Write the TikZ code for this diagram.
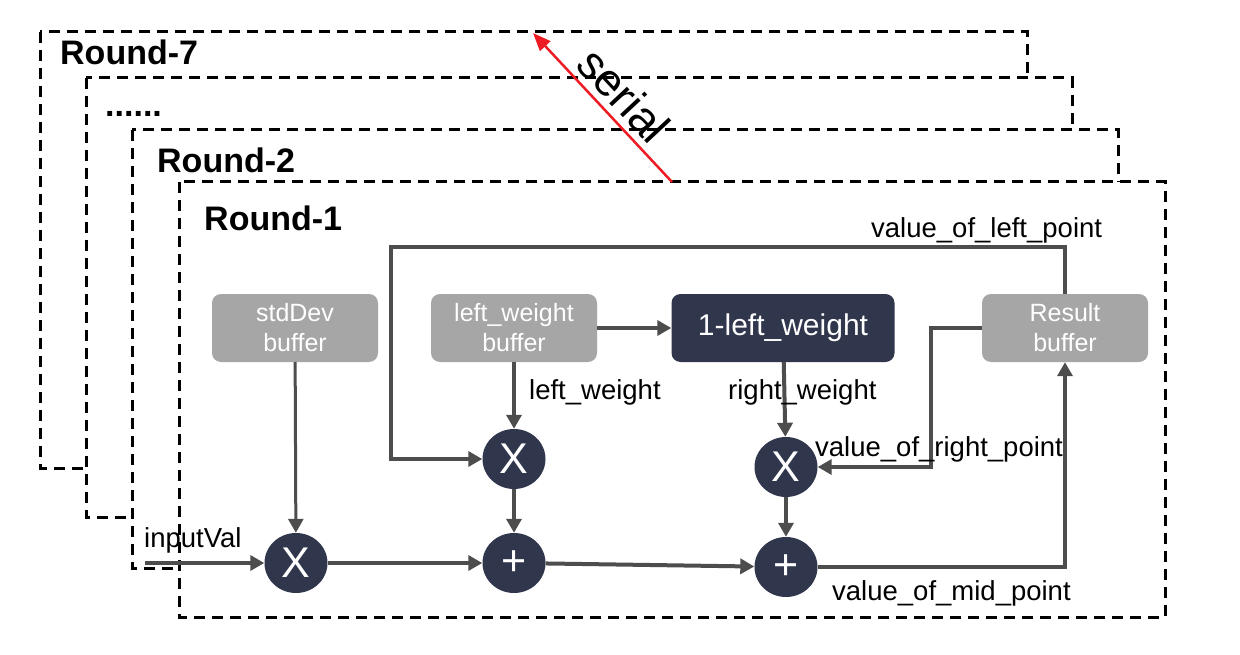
\documentclass[tikz,border=0pt]{standalone}
\usepackage{fontspec}
\setmainfont{Liberation Sans}
\usetikzlibrary{calc,shapes.geometric,arrows.meta}
\definecolor{navy}{RGB}{48,54,76}
\definecolor{bufgray}{RGB}{166,166,166}
\definecolor{wiregray}{RGB}{77,77,77}
\definecolor{serialred}{RGB}{237,28,36}

\begin{document}
\begin{tikzpicture}[x=1pt,y=-1pt,
  roundbox/.style={draw,fill=white,line width=3pt,dash pattern=on 11pt off 7pt},
  roundlbl/.style={inner sep=0pt,font=\fontsize{34}{40}\selectfont\bfseries},
  buf/.style={fill=bufgray,rounded corners=9pt,minimum width=166pt,minimum height=68pt,
    text=white,align=center,inner sep=0pt,font=\fontsize{25}{30}\selectfont},
  op/.style={ellipse,fill=navy,minimum width=63pt,minimum height=60pt,
    text=white,inner sep=0pt,font=\fontsize{43}{43}\selectfont},
  wire/.style={draw=wiregray,line width=4pt,-{Triangle[length=14pt,width=15pt]}},
  lbl/.style={inner sep=0pt,anchor=base west,font=\fontsize{27.5}{33}\selectfont}]
  \useasboundingbox (0,0) rectangle (1240,655);

  %% Stacked rounds, back to front
  \foreach \l/\t/\r/\b in {40/32/1027/468,86/78/1072/517,132/130/1118/568,179/182/1165/617}
  {
    \draw[roundbox] (\l,\t) rectangle (\r,\b);
  }
  \node[roundlbl,anchor=west] (r7) at (60,52) {Round-7};
  \node[roundlbl,anchor=base west] (rdots) at (105,117) {......};
  \node[roundlbl,anchor=west] (r2) at (157,160) {Round-2};
  \node[roundlbl,anchor=west] (r1) at (204,218) {Round-1};

  %% Serial arrow
  \coordinate (serialfoot) at (672,182);
  \coordinate (serialtip) at (533,33);
  \draw[serialred,line width=2.5pt,-{Triangle[length=18pt,width=14pt]}] (serialfoot) -- (serialtip);
  \node[inner sep=0pt,rotate=-47,font=\fontsize{46}{46}\selectfont] (serial) at (624,95) {serial};

  %% Buffers
  \node[buf] (stddev) at (295,328) {stdDev\\buffer};
  \node[buf] (lwbuf) at (514,328) {left\_weight\\buffer};
  \node[buf,fill=navy,minimum width=223pt,font=\fontsize{30}{36}\selectfont] (rwcalc) at (783,328) {1-left\_weight};
  \node[buf] (result) at (1065,328) {Result\\buffer};

  %% Operators
  \node[op] (mulin) at (296,563) {X};
  \node[op] (mulleft) at (514,459) {X};
  \node[op] (mulright) at (786,467) {X};
  \node[op] (addleft) at (514,563) {+};
  \node[op] (addmid) at (786,567) {+};

  %% Wires
  \coordinate (inputstart) at (145,563);
  \coordinate (leftloop) at (391,247);
  \coordinate (rightloop) at (931,328);
  \draw[wire,line width=3pt] (stddev) -- (mulin);
  \draw[wire] (inputstart) -- (mulin);
  \draw[wire] (mulin) -- (addleft);
  \draw[wire] (addleft) -- (addmid);
  \draw[wire] (addmid.east) -| (result.south);
  \draw[wire] (result.north) |- (leftloop) |- (mulleft.west);
  \draw[wire] (result.west) -- (rightloop) |- (mulright.east);
  \draw[wire] (lwbuf) -- (mulleft);
  \draw[wire] (lwbuf) -- (rwcalc);
  \draw[wire] (rwcalc) -- (mulright);
  \draw[wire] (mulleft) -- (addleft);
  \draw[wire] (mulright) -- (addmid);

  %% Signal names
  \node[lbl] (inputlbl) at (144,547) {inputVal};
  \node[lbl] (lwlbl) at (529,399) {left\_weight};
  \node[lbl] (rwlbl) at (728,399) {right\_weight};
  \node[lbl] (rightlbl) at (815,456) {value\_of\_right\_point};
  \node[lbl] (leftlbl) at (871,238) {value\_of\_left\_point};
  \node[lbl] (midlbl) at (832,600) {value\_of\_mid\_point};
\end{tikzpicture}
\end{document}
